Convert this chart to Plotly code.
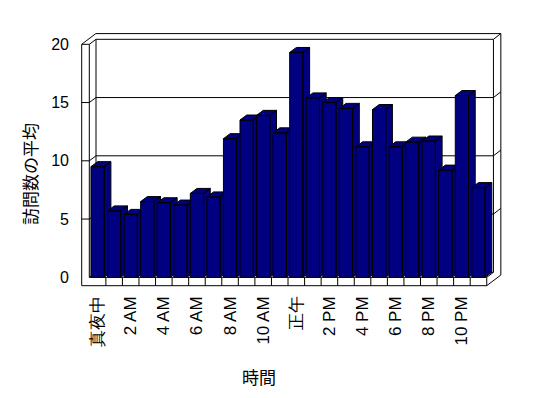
import plotly.graph_objects as go

# ---- data ----
categories = ['真夜中', '1 AM', '2 AM', '3 AM', '4 AM', '5 AM', '6 AM', '7 AM',
              '8 AM', '9 AM', '10 AM', '11 AM', '正午', '1 PM', '2 PM', '3 PM',
              '4 PM', '5 PM', '6 PM', '7 PM', '8 PM', '9 PM', '10 PM', '11 PM']
visits = [9.5, 5.7, 5.4, 6.5, 6.4, 6.2, 7.2, 6.9, 11.9, 13.5, 13.9, 12.4,
          19.3, 15.4, 15.0, 14.5, 11.2, 14.4, 11.2, 11.6, 11.7, 9.2, 15.6, 7.7]
tick_positions = [0, 2, 4, 6, 8, 10, 12, 14, 16, 18, 20, 22]
tick_labels = ['真夜中', '2 AM', '4 AM', '6 AM', '8 AM', '10 AM', '正午',
               '2 PM', '4 PM', '6 PM', '8 PM', '10 PM']
y_ticks = [0, 5, 10, 15, 20]
x_title = '時間'
y_title = '訪問数の平均'

# ---- styling / geometry ----
W, H = 548, 398
ML, MR, MT, MB = 80, 40, 20, 108
PX0, SX = 89.3, 16.56      # pixel of first category boundary, px per category
PY0, SY = 277.3, 11.65     # pixel of value 0, px per value unit
plotW, plotH = W - ML - MR, H - MT - MB
xmin = -0.5 - (PX0 - ML) / SX
xmax = xmin + plotW / SX
ymin = -((H - MB) - PY0) / SY
ymax = ymin + plotH / SY

DX, DY = 6.7 / SX, 5.0 / SY      # depth of bars / floor
TX, TY = 7.4 / SX, 5.7 / SY      # back wall thickness
WX = 7.6 / SX                    # left wall thickness
FY = 8.4 / SY                    # floor thickness
HALF = 0.4                       # half bar width
YTOP = max(y_ticks)
N = len(categories)
L, R = -0.5, N - 0.5

BAR = '#000080'
FONT = 'Liberation Sans'
CJK = 'Noto Sans CJK JP'

fig = go.Figure()

# 3D-looking bars: side, top and front faces for each category
for i, v in enumerate(visits):
    xs, ys = [], []
    # side
    xs += [i + HALF, i + HALF, i + HALF + DX, i + HALF + DX, i + HALF, None]
    ys += [0, v, v + DY, DY, 0, None]
    # top
    xs += [i - HALF, i + HALF, i + HALF + DX, i - HALF + DX, i - HALF, None]
    ys += [v, v, v + DY, v + DY, v, None]
    # front
    xs += [i - HALF, i + HALF, i + HALF, i - HALF, i - HALF]
    ys += [0, 0, v, v, 0]
    fig.add_trace(go.Scatter(x=xs, y=ys, mode='lines', fill='toself',
                             fillcolor=BAR, line=dict(color='black', width=1),
                             hoverinfo='skip', showlegend=False,
                             name=categories[i]))

shapes = []
ln = dict(color='black', width=1)

def path(pts, close=False):
    d = 'M ' + ' L '.join(f'{x},{y}' for x, y in pts)
    if close:
        d += ' Z'
    return d

# outer frame (walls + floor)
outer = [(L - WX, -FY), (L - WX, YTOP), (L - WX + DX + TX, YTOP + DY + TY),
         (R + DX + TX, YTOP + DY + TY), (R + DX + TX, -FY + DY + TY), (R, -FY)]
shapes.append(dict(type='path', path=path(outer, True), line=ln,
                   fillcolor='white', layer='below'))
inner_lines = [
    [(L, 0), (L, YTOP)],
    [(L - WX, YTOP), (L, YTOP), (L + DX, YTOP + DY), (R + DX, YTOP + DY),
     (R + DX + TX, YTOP + DY + TY)],
    [(R + DX, YTOP + DY), (R + DX, DY)],
    [(L + DX, DY), (L + DX, YTOP + DY)],
    [(L, 0), (L + DX, DY), (R + DX, DY)],
    [(L, 0), (R, 0), (R + DX, DY)],
    [(R, 0), (R, -FY)],
]
for g in y_ticks[1:-1]:
    inner_lines.append([(L - WX, g), (L, g), (L + DX, g + DY), (R + DX, g + DY),
                        (R + DX + TX, g + DY + TY)])
for k in range(1, N):
    inner_lines.append([(L + k, -FY), (L + k, 0)])
for pts in inner_lines:
    shapes.append(dict(type='path', path=path(pts), line=ln, layer='below'))

fig.update_layout(
    width=W, height=H, autosize=False,
    margin=dict(l=ML, r=MR, t=MT, b=MB, pad=0),
    paper_bgcolor='white', plot_bgcolor='white',
    font=dict(family=FONT, size=16, color='black'),
    showlegend=False,
    shapes=shapes,
    xaxis=dict(range=[xmin, xmax], tickmode='array', tickvals=tick_positions,
               ticktext=tick_labels, tickangle=-90, showgrid=False,
               zeroline=False, showline=False, ticks='', fixedrange=True,
               ticklabelstandoff=2,
               tickfont=dict(family=FONT, size=17, color='black')),
    yaxis=dict(range=[ymin, ymax], tickmode='array', tickvals=y_ticks,
               showgrid=False, zeroline=False, showline=False, ticks='',
               ticklabelstandoff=10, fixedrange=True,
               tickfont=dict(family=FONT, size=16, color='black')),
    annotations=[
        dict(text=x_title, xref='paper', yref='paper',
             x=(259 - ML) / plotW, y=((H - MB) - 376.7) / plotH,
             xanchor='center', yanchor='middle', showarrow=False,
             font=dict(family=CJK, size=17, color='black')),
        dict(text=y_title, xref='paper', yref='paper', textangle=-90,
             x=(29 - ML) / plotW, y=((H - MB) - 174) / plotH,
             xanchor='center', yanchor='middle', showarrow=False,
             font=dict(family=CJK, size=17, color='black')),
    ],
)

fig.write_html('out.html')
